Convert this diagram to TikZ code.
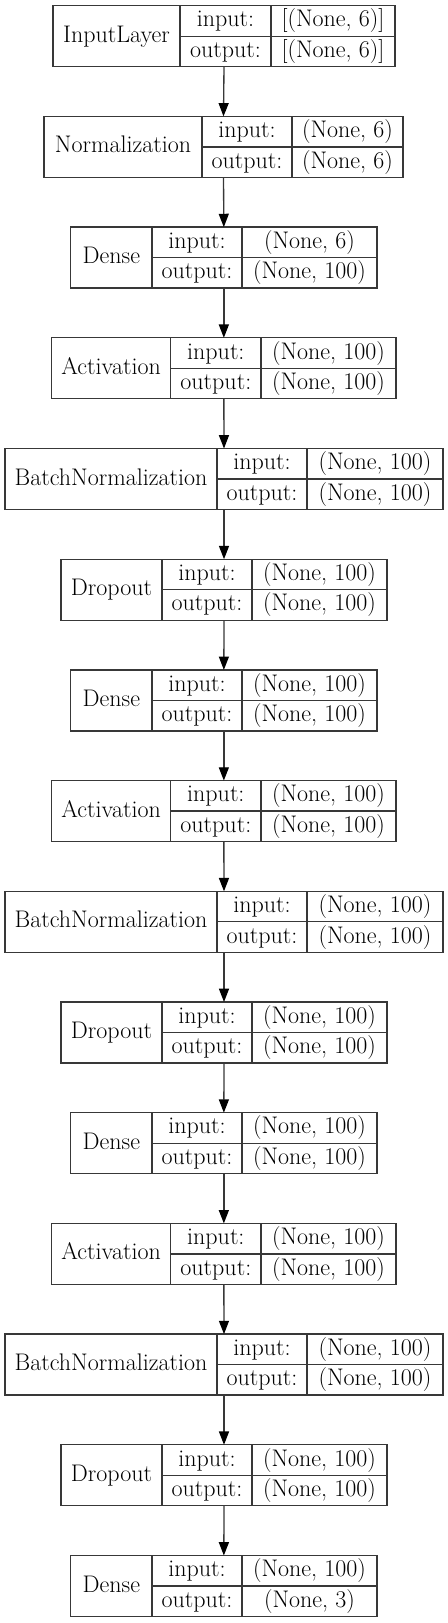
\documentclass[tikz,border=0pt]{standalone}
\usetikzlibrary{arrows.meta}
\tikzset{
  box/.style={draw=black!78, line width=1pt, rectangle, inner sep=0pt, outer sep=0pt, minimum height=45.75pt},
  rule/.style={draw=black!78, line width=1pt},
  txt/.style={inner sep=0pt, text height=13.5pt, text depth=4.5pt, font=\fontsize{18}{21}\selectfont},
  arr/.style={draw=black!78, line width=1pt, -{Triangle[length=10pt,width=7.5pt,fill=black,color=black]}}
}
\newcommand{\kLayer}[8]{%
  \pgfmathsetmacro\tY{5.7+110.7*#1}%
  \pgfmathsetmacro\mY{\tY+30.5}%
  \pgfmathsetmacro\bY{\tY+61}%
  \pgfmathsetmacro\qA{\tY+15.25}%
  \pgfmathsetmacro\qB{\tY+45.75}%
  \node[box, minimum width={(#6-#3)*0.75pt}, anchor=north west] (b#1) at (#3,\tY) {};
  \draw[rule] (#4,\tY) -- (#4,\bY) (#5,\tY) -- (#5,\bY) (#4,\mY) -- (#6,\mY);
  \node[txt] (n#1) at ({(#3+#4)/2},\mY) {#2};
  \node[txt] (ik#1) at ({(#4+#5)/2},\qA) {input:};
  \node[txt] (ok#1) at ({(#4+#5)/2},\qB) {output:};
  \node[txt] (iv#1) at ({(#5+#6)/2},\qA) {#7};
  \node[txt] (ov#1) at ({(#5+#6)/2},\qB) {#8};
}
\begin{document}
\begin{tikzpicture}[x=0.75pt,y=-0.75pt]
\fill[white] (0,0) rectangle (448,1623);
\useasboundingbox (0,0) rectangle (448,1623);
\kLayer{0}{InputLayer}{53}{180}{271}{395}{[(None, 6)]}{[(None, 6)]}
\kLayer{1}{Normalization}{44}{202}{292}{403}{(None, 6)}{(None, 6)}
\kLayer{2}{Dense}{70.7}{152}{242}{377}{(None, 6)}{(None, 100)}
\kLayer{3}{Activation}{51.7}{170.7}{261}{396}{(None, 100)}{(None, 100)}
\kLayer{4}{BatchNormalization}{5}{217}{307}{443}{(None, 100)}{(None, 100)}
\kLayer{5}{Dropout}{61}{162}{252}{387}{(None, 100)}{(None, 100)}
\kLayer{6}{Dense}{70.7}{152}{242}{377}{(None, 100)}{(None, 100)}
\kLayer{7}{Activation}{51.7}{170.7}{261}{396}{(None, 100)}{(None, 100)}
\kLayer{8}{BatchNormalization}{5}{217}{307}{443}{(None, 100)}{(None, 100)}
\kLayer{9}{Dropout}{61}{162}{252}{387}{(None, 100)}{(None, 100)}
\kLayer{10}{Dense}{70.7}{152}{242}{377}{(None, 100)}{(None, 100)}
\kLayer{11}{Activation}{51.7}{170.7}{261}{396}{(None, 100)}{(None, 100)}
\kLayer{12}{BatchNormalization}{5}{217}{307}{443}{(None, 100)}{(None, 100)}
\kLayer{13}{Dropout}{61}{162}{252}{387}{(None, 100)}{(None, 100)}
\kLayer{14}{Dense}{70.7}{152}{242}{377}{(None, 100)}{(None, 3)}
\foreach \i [evaluate=\i as \j using int(\i+1)] in {0,...,13} {
  \draw[arr] (b\i.south) -- (b\j.north);
}
\end{tikzpicture}
\end{document}
